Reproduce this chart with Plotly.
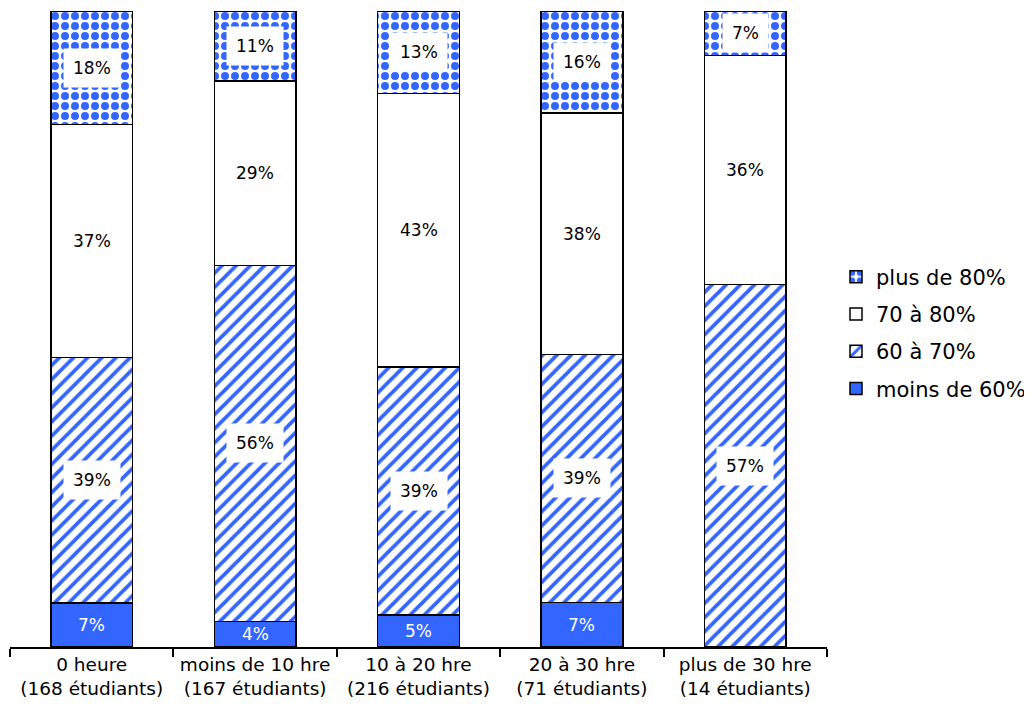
import plotly.graph_objects as go

categories = ["0 heure<br>(168 étudiants)", "moins de 10 hre<br>(167 étudiants)",
              "10 à 20 hre<br>(216 étudiants)", "20 à 30 hre<br>(71 étudiants)",
              "plus de 30 hre<br>(14 étudiants)"]
moins_60 = [7, 4, 5, 7, 0]
de_60_70 = [39, 56, 39, 39, 57]
de_70_80 = [37, 29, 43, 38, 36]
plus_80 = [18, 11, 13, 16, 7]

BLUE = "#3366ff"
FONT = "DejaVu Sans"

series = [
    ("moins de 60%", moins_60, dict(color=BLUE)),
    ("60 à 70%", de_60_70, dict(color="white", pattern=dict(shape="/", fgcolor=BLUE, bgcolor="white",
                                                          fgopacity=1, size=10, solidity=0.38,
                                                          fillmode="overlay"))),
    ("70 à 80%", de_70_80, dict(color="white")),
    ("plus de 80%", plus_80, dict(color="white", pattern=dict(shape=".", fgcolor=BLUE, bgcolor="white",
                                                             fgopacity=1, size=10, solidity=0.5,
                                                             fillmode="overlay"))),
]

fig = go.Figure()
for i, (name, vals, marker) in enumerate(series):
    marker["line"] = dict(color="black", width=1.5)
    # legende dans l'ordre inverse de l'empilement
    fig.add_trace(go.Bar(x=categories, y=vals, name=name, marker=marker,
                         legendgroup=str(i), legendrank=10 - i, width=0.5))

# labels au centre de chaque segment (valeurs normalisees a 100%)
annotations = []
totals = [sum(s[1][j] for s in series) for j in range(len(categories))]
for j, cat in enumerate(categories):
    base = 0
    for i, (name, vals, marker) in enumerate(series):
        v = vals[j] / totals[j] * 100
        if vals[j] > 0:
            ann = dict(x=cat, y=base + v / 2, text="%d%%" % vals[j], showarrow=False,
                       font=dict(family=FONT, size=17, color="white" if i == 0 else "black"))
            if i in (1, 3):
                ann.update(bgcolor="white", borderpad=9)
            annotations.append(ann)
        base += v

fig.update_layout(
    barmode="stack", barnorm="percent",
    width=1032, height=719,
    margin=dict(l=2, r=213, t=3, b=80),
    plot_bgcolor="white", paper_bgcolor="white",
    font=dict(family=FONT, size=18, color="black"),
    showlegend=True,
    legend=dict(traceorder="grouped", x=828 / 1032, xref="container", xanchor="left",
                y=1 - 325 / 719, yref="container", yanchor="middle",
                font=dict(size=21), tracegroupgap=7, bgcolor="rgba(0,0,0,0)"),
    annotations=annotations,
    xaxis=dict(showline=True, linecolor="black", linewidth=1.5, ticks="outside", tickson="boundaries",
               ticklen=8, tickcolor="black", tickwidth=1.5, tickfont=dict(size=18.5)),
    yaxis=dict(range=[0, 100], visible=False),
)

fig.write_html("out.html")
